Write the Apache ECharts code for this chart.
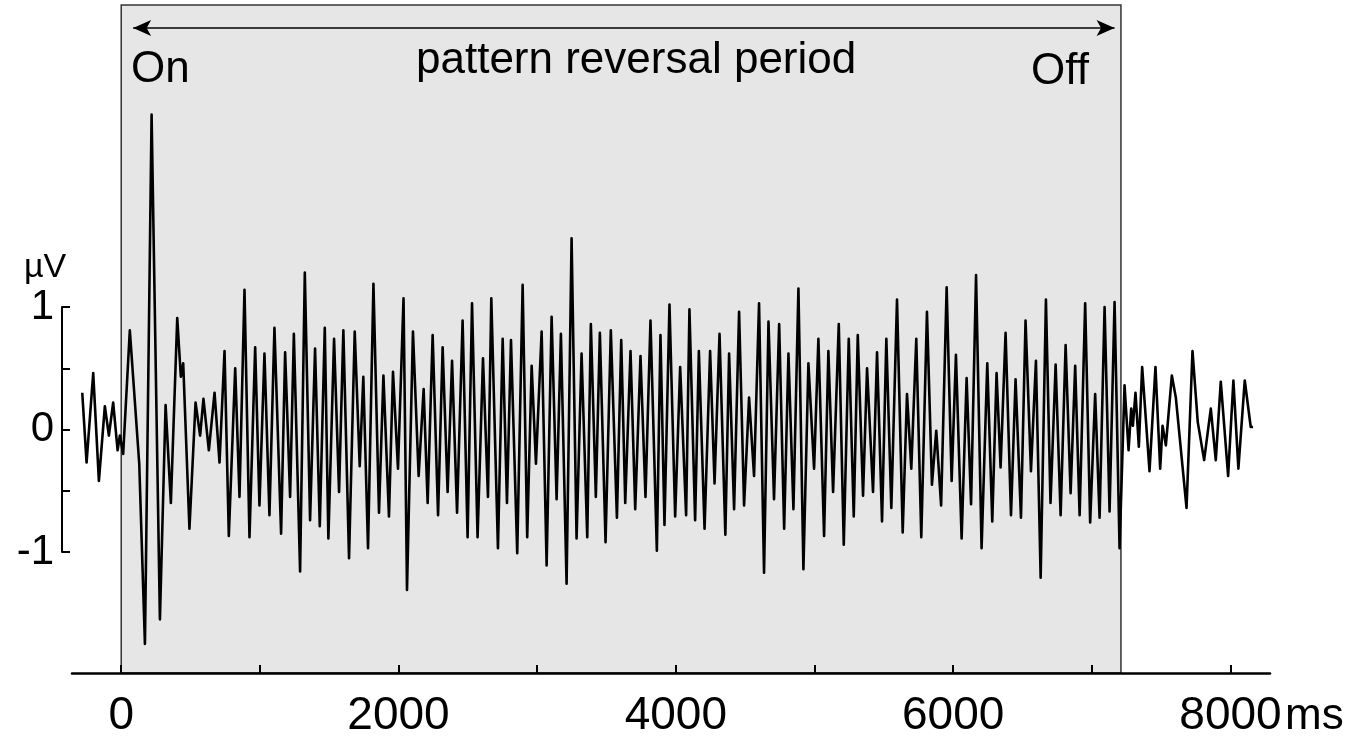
<!DOCTYPE html>
<html>
<head>
<meta charset="utf-8">
<script src="https://cdn.jsdelivr.net/npm/echarts@6.0.0/dist/echarts.min.js"></script>
<style>
html,body{margin:0;padding:0;background:#fff;}
#c{width:1363px;height:736px;}
</style>
</head>
<body>
<div id="c"></div>
<script>
// time (ms) of each turning point of the averaged EEG trace
const times = [
 -281,-250,-202,-161,-118,-89,-58,-26,-10,14,62,130,171,219,279,320,358,404,430,447,
 492,536,569,593,632,673,709,745,776,822,853,889,925,966,997,1033,1069,1105,1153,1182,
 1218,1245,1290,1324,1362,1398,1432,1468,1494,1535,1571,1602,1643,1684,1720,1746,1780,1819,1859,1891,
 1931,1960,1996,2036,2061,2104,2145,2181,2210,2246,2285,2318,2354,2386,2422,2462,2498,2530,2570,2609,
 2645,2669,2717,2751,2782,2811,2856,2895,2928,2960,2991,3032,3068,3104,3140,3171,3212,3248,3284,3320,
 3361,3387,3423,3452,3493,3531,3575,3606,3635,3673,3707,3745,3781,3817,3863,3889,3918,3954,3995,4031,
 4074,4098,4139,4166,4207,4247,4279,4315,4357,4384,4420,4456,4492,4528,4564,4600,4636,4668,4708,4745,
 4781,4812,4848,4884,4920,4956,4997,5028,5069,5100,5134,5175,5211,5247,5283,5312,5350,5379,5422,5451,
 5487,5518,5554,5595,5636,5667,5698,5734,5770,5811,5847,5878,5913,5953,5989,6020,6061,6097,6129,6165,
 6205,6246,6282,6313,6342,6378,6417,6450,6489,6522,6561,6597,6631,6669,6702,6739,6775,6811,6847,6880,
 6912,6952,6988,7024,7056,7092,7128,7164,7200,7236,7265,7284,7296,7315,7339,7363,7416,7459,7493,7510,
 7534,7577,7606,7683,7726,7764,7810,7858,7894,7930,7983,8021,8057,8103,8146,8163
];
// amplitude (µV) at each turning point
const values = [
 0.30,-0.27,0.46,-0.42,0.19,-0.05,0.22,-0.17,-0.05,-0.20,0.81,-0.28,-1.75,2.57,-1.55,0.20,-0.60,0.91,0.43,0.54,
 -0.81,0.22,-0.05,0.25,-0.17,0.30,-0.27,0.64,-0.87,0.50,-0.55,1.14,-0.88,0.67,-0.62,0.62,-0.70,0.83,-0.85,0.63,
 -0.55,0.78,-1.16,1.28,-0.74,0.66,-0.79,0.83,-0.89,0.74,-0.51,0.81,-1.05,0.80,-0.30,0.43,-0.97,1.19,-0.68,0.44,
 -0.71,0.47,-0.32,1.07,-1.31,0.80,-0.38,0.33,-0.60,0.77,-0.70,0.67,-0.51,0.56,-0.68,0.89,-0.88,1.03,-0.88,0.58,
 -0.55,1.07,-0.97,0.74,-0.60,0.73,-1.01,1.18,-0.88,0.52,-0.28,0.80,-1.11,0.92,-0.57,0.78,-1.26,1.56,-0.89,0.62,
 -0.88,0.86,-0.55,0.79,-0.92,0.81,-0.72,0.73,-0.60,0.64,-0.65,0.60,-0.55,0.89,-0.99,0.77,-0.78,1.02,-0.71,0.51,
 -0.70,0.98,-0.74,0.64,-0.81,0.64,-0.44,0.78,-0.86,0.62,-0.65,0.96,-0.62,0.26,-0.38,1.03,-1.17,0.88,-0.57,0.86,
 -0.81,0.62,-0.65,1.15,-1.14,0.54,-0.32,0.74,-0.87,0.64,-0.51,0.86,-0.94,0.74,-0.71,0.77,-0.54,0.50,-0.51,0.63,
 -0.75,0.74,-0.64,1.06,-0.84,0.29,-0.32,0.74,-0.88,0.96,-0.45,-0.01,-0.62,1.16,-0.42,0.61,-0.89,0.42,-0.61,1.26,
 -0.97,0.54,-0.75,0.46,-0.31,0.79,-0.70,0.41,-0.72,0.89,-0.34,0.56,-1.21,1.06,-0.60,0.53,-0.70,0.69,-0.52,0.52,
 -0.70,1.03,-0.76,0.29,-0.72,1.00,-0.67,1.04,-0.97,0.36,-0.17,0.17,0.03,0.30,-0.14,0.51,-0.34,0.51,-0.32,0.03,
 -0.13,0.44,0.26,-0.64,0.64,0.06,-0.25,0.17,-0.25,0.39,-0.38,0.40,-0.32,0.40,0.02,0.02
];
const periodStart = 0, periodEnd = 7210;
const xTicks = [0,1000,2000,3000,4000,5000,6000,7000,8000];
const xLabels = [0,2000,4000,6000,8000];

const data = times.map((t,i)=>[t, values[i]]);
const font = 'Liberation Sans, Arial, Helvetica, sans-serif';

const chart = echarts.init(document.getElementById('c'));
chart.setOption({
  animation:false,
  backgroundColor:'#ffffff',
  grid:[
    {left:72,right:93,top:5,bottom:63,containLabel:false,outerBoundsMode:'none'},
    {left:62,width:30,top:307,height:245,containLabel:false,outerBoundsMode:'none'}
  ],
  xAxis:[
    {type:'value',gridIndex:0,min:-355,max:8285,z:10,
     axisLine:{show:true,onZero:false,lineStyle:{color:'#000',width:2.5}},
     axisTick:{show:true,inside:true,length:8,customValues:xTicks,lineStyle:{color:'#000',width:2}},
     axisLabel:{show:true,customValues:xLabels,color:'#000',fontSize:46,fontFamily:font,margin:20,
       formatter:v=>String(v)},
     splitLine:{show:false}},
    {type:'value',gridIndex:1,min:0,max:1,show:false}
  ],
  yAxis:[
    {type:'value',gridIndex:0,min:-1.988,max:3.465,show:false,splitLine:{show:false}},
    {type:'value',gridIndex:1,min:-1,max:1,interval:0.5,
     axisLine:{show:true,lineStyle:{color:'#000',width:2}},
     axisTick:{show:true,inside:true,length:8,lineStyle:{color:'#000',width:2}},
     axisLabel:{color:'#000',fontSize:42,fontFamily:font,margin:8,
       formatter:v=> (Math.abs(v-Math.round(v))<1e-9 ? String(Math.round(v)) : '')},
     splitLine:{show:false}}
  ],
  series:[
    {type:'line',xAxisIndex:0,yAxisIndex:0,data:[],z:1,silent:true,
     markArea:{silent:true,
       itemStyle:{color:'#e6e6e6',borderColor:'#333',borderWidth:1.5},
       data:[[{xAxis:periodStart},{xAxis:periodEnd}]]}},
    {type:'line',xAxisIndex:0,yAxisIndex:0,data:data,z:3,showSymbol:false,symbol:'none',
     lineStyle:{color:'#000',width:2.6,join:'round'},
     markLine:{silent:true,symbol:['arrow','arrow'],symbolSize:[12,18],
       label:{show:false},
       lineStyle:{color:'#000',width:1.5,type:'solid'},
       data:[[{coord:[86,3.278]},{coord:[7164,3.278]}]]}}
  ],
  graphic:[
    {type:'text',z:100,left:131,top:48,style:{text:'On',font:'44px '+font,fill:'#000'}},
    {type:'text',z:100,left:636-220,top:39,style:{text:'pattern reversal period',font:'44px '+font,fill:'#000'}},
    {type:'text',z:100,left:1031,top:50,style:{text:'Off',font:'44px '+font,fill:'#000'}},
    {type:'text',z:100,left:24,top:251,style:{text:'µV',font:'34px '+font,fill:'#000'}},
    {type:'text',z:100,left:1285,top:695,style:{text:'ms',font:'44px '+font,fill:'#000'}}
  ]
});
</script>
</body>
</html>
